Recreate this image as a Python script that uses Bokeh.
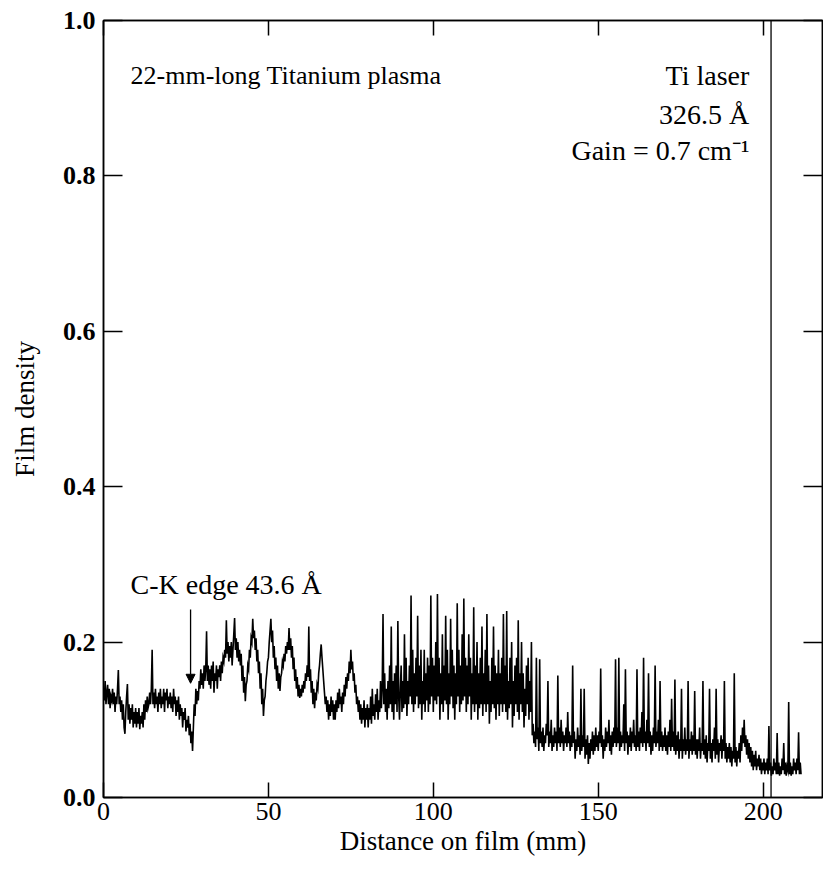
from bokeh.plotting import figure
from bokeh.models import Range1d, FixedTicker, LinearAxis, Span, Label, Arrow, NormalHead, ColumnDataSource
from bokeh.embed import file_html
from bokeh.resources import INLINE

# ---------------- data ----------------
x_step = 0.25
density = [
    # 0-10 mm
    0.14,0.125,0.15,0.12,0.135,0.145,0.12,0.14,0.115,0.13,
    0.125,0.14,0.12,0.135,0.11,0.13,0.12,0.14,0.164,0.12,
    0.13,0.11,0.125,0.10,0.12,0.09,0.082,0.11,0.13,0.146,
    0.10,0.12,0.095,0.115,0.10,0.12,0.09,0.11,0.095,0.115,
    # 10-20
    0.09,0.11,0.095,0.115,0.088,0.105,0.095,0.11,0.09,0.12,
    0.10,0.125,0.11,0.13,0.115,0.12,0.135,0.12,0.14,0.19,
    0.12,0.135,0.115,0.14,0.12,0.13,0.11,0.135,0.12,0.14,
    0.115,0.13,0.12,0.14,0.11,0.135,0.125,0.14,0.115,0.13,
    # 20-30
    0.12,0.135,0.115,0.13,0.11,0.14,0.12,0.13,0.105,0.125,
    0.11,0.13,0.10,0.12,0.105,0.115,0.09,0.11,0.10,0.115,
    0.085,0.10,0.09,0.105,0.08,0.095,0.07,0.085,0.06,0.09,
    0.12,0.105,0.14,0.12,0.137,0.125,0.15,0.14,0.165,0.145,
    # 30-40
    0.16,0.14,0.17,0.15,0.165,0.214,0.15,0.17,0.145,0.165,
    0.14,0.17,0.15,0.175,0.135,0.16,0.15,0.17,0.14,0.165,
    0.155,0.17,0.15,0.175,0.16,0.18,0.175,0.19,0.18,0.228,
    0.185,0.20,0.175,0.195,0.18,0.20,0.17,0.19,0.21,0.231,
    # 40-50
    0.19,0.205,0.18,0.20,0.175,0.19,0.17,0.185,0.15,0.17,
    0.135,0.155,0.124,0.145,0.15,0.17,0.165,0.19,0.18,0.205,
    0.20,0.23,0.205,0.215,0.19,0.205,0.175,0.19,0.16,0.175,
    0.14,0.16,0.12,0.14,0.105,0.125,0.13,0.15,0.16,0.175,
    # 50-60
    0.18,0.20,0.215,0.23,0.20,0.215,0.18,0.195,0.165,0.18,
    0.15,0.17,0.14,0.16,0.137,0.155,0.16,0.175,0.17,0.185,
    0.175,0.195,0.185,0.20,0.19,0.218,0.19,0.205,0.18,0.195,
    0.165,0.18,0.15,0.165,0.14,0.155,0.13,0.145,0.128,0.14,
    # 60-70
    0.13,0.145,0.135,0.15,0.14,0.16,0.15,0.17,0.155,0.22,
    0.15,0.165,0.135,0.15,0.12,0.14,0.115,0.135,0.125,0.145,
    0.14,0.16,0.17,0.185,0.197,0.18,0.165,0.15,0.135,0.12,
    0.13,0.11,0.125,0.10,0.12,0.105,0.13,0.11,0.125,0.10,
    # 70-80
    0.12,0.10,0.125,0.11,0.135,0.115,0.14,0.12,0.13,0.11,
    0.135,0.12,0.145,0.13,0.155,0.14,0.16,0.15,0.175,0.16,
    0.19,0.165,0.175,0.15,0.16,0.135,0.145,0.12,0.13,0.11,
    0.125,0.10,0.12,0.095,0.115,0.10,0.125,0.09,0.115,0.10,
    # 80-90
    0.12,0.09,0.115,0.10,0.13,0.095,0.14,0.105,0.12,0.10,
    0.133,0.11,0.14,0.10,0.125,0.11,0.15,0.115,0.14,0.236,
    0.12,0.16,0.11,0.14,0.10,0.15,0.115,0.17,0.12,0.22,
    0.11,0.15,0.10,0.16,0.12,0.17,0.11,0.227,0.13,0.10,
    # 90-100
    0.14,0.17,0.11,0.15,0.115,0.21,0.12,0.18,0.105,0.15,
    0.12,0.17,0.13,0.26,0.12,0.19,0.11,0.16,0.12,0.18,
    0.13,0.234,0.115,0.17,0.12,0.19,0.10,0.15,0.12,0.19,
    0.11,0.16,0.125,0.18,0.11,0.17,0.12,0.26,0.13,0.18,
    # 100-110
    0.11,0.17,0.125,0.20,0.12,0.262,0.13,0.18,0.10,0.16,
    0.12,0.21,0.11,0.17,0.125,0.234,0.12,0.19,0.10,0.16,
    0.12,0.23,0.13,0.19,0.115,0.17,0.10,0.16,0.12,0.25,
    0.13,0.19,0.11,0.17,0.12,0.21,0.125,0.256,0.13,0.18,
    # 110-120
    0.11,0.17,0.12,0.21,0.13,0.18,0.10,0.16,0.12,0.245,
    0.11,0.17,0.12,0.20,0.10,0.16,0.115,0.18,0.12,0.22,
    0.105,0.16,0.12,0.19,0.11,0.236,0.12,0.17,0.095,0.15,
    0.11,0.18,0.12,0.22,0.115,0.17,0.10,0.16,0.12,0.19,
    # 120-130
    0.105,0.16,0.12,0.18,0.11,0.236,0.12,0.17,0.11,0.24,
    0.10,0.15,0.115,0.18,0.12,0.20,0.09,0.15,0.105,0.17,
    0.12,0.18,0.11,0.228,0.10,0.16,0.12,0.20,0.11,0.16,
    0.09,0.14,0.105,0.17,0.12,0.18,0.10,0.15,0.11,0.20,
    # 130-140
    0.08,0.095,0.07,0.085,0.065,0.18,0.075,0.09,0.06,0.178,
    0.07,0.085,0.065,0.09,0.06,0.08,0.07,0.095,0.08,0.15,
    0.065,0.085,0.07,0.10,0.06,0.08,0.065,0.09,0.07,0.085,
    0.06,0.157,0.07,0.09,0.065,0.10,0.07,0.085,0.06,0.08,
    # 140-150
    0.07,0.09,0.065,0.11,0.07,0.085,0.06,0.08,0.065,0.17,
    0.07,0.085,0.05,0.075,0.06,0.09,0.065,0.08,0.055,0.14,
    0.06,0.08,0.065,0.14,0.05,0.075,0.055,0.08,0.043,0.07,
    0.05,0.075,0.06,0.085,0.055,0.08,0.06,0.09,0.065,0.08,
    # 150-160
    0.06,0.085,0.07,0.166,0.065,0.08,0.05,0.075,0.06,0.09,
    0.065,0.085,0.07,0.10,0.06,0.08,0.055,0.085,0.065,0.09,
    0.07,0.178,0.065,0.09,0.07,0.18,0.06,0.085,0.065,0.08,
    0.07,0.12,0.06,0.165,0.07,0.085,0.055,0.08,0.065,0.09,
    # 160-170
    0.06,0.085,0.07,0.10,0.065,0.08,0.06,0.165,0.065,0.085,
    0.06,0.09,0.07,0.11,0.065,0.18,0.07,0.085,0.06,0.10,
    0.07,0.16,0.065,0.085,0.055,0.08,0.06,0.09,0.07,0.17,
    0.065,0.085,0.07,0.10,0.06,0.15,0.065,0.085,0.06,0.08,
    # 170-180
    0.065,0.09,0.06,0.08,0.055,0.085,0.065,0.10,0.06,0.127,
    0.065,0.085,0.06,0.152,0.055,0.08,0.06,0.085,0.05,0.075,
    0.06,0.14,0.05,0.075,0.06,0.09,0.055,0.075,0.06,0.15,
    0.05,0.075,0.06,0.085,0.055,0.08,0.06,0.137,0.055,0.075,
    # 180-190
    0.05,0.075,0.06,0.09,0.05,0.07,0.06,0.15,0.055,0.075,
    0.05,0.08,0.045,0.07,0.06,0.14,0.05,0.07,0.045,0.075,
    0.06,0.09,0.05,0.14,0.055,0.075,0.045,0.07,0.06,0.08,
    0.05,0.075,0.06,0.15,0.05,0.07,0.045,0.065,0.05,0.07,
    # 190-200
    0.045,0.065,0.04,0.06,0.05,0.16,0.045,0.065,0.04,0.06,
    0.05,0.07,0.045,0.08,0.06,0.09,0.07,0.10,0.065,0.08,
    0.055,0.075,0.05,0.07,0.045,0.065,0.04,0.06,0.035,0.055,
    0.04,0.06,0.035,0.05,0.04,0.055,0.035,0.05,0.03,0.045,
    # 200-210
    0.035,0.05,0.03,0.045,0.035,0.05,0.03,0.092,0.035,0.045,
    0.028,0.04,0.03,0.05,0.035,0.045,0.03,0.083,0.03,0.045,
    0.028,0.04,0.03,0.05,0.035,0.07,0.03,0.045,0.028,0.04,
    0.035,0.123,0.03,0.045,0.028,0.04,0.03,0.05,0.035,0.045,
    # 210-211.5
    0.03,0.05,0.035,0.084,0.03,0.045,0.03,
]
distance = [i * x_step for i in range(len(density))]

x_ticks = [0, 50, 100, 150, 200]
y_ticks = [0.0, 0.2, 0.4, 0.6, 0.8, 1.0]
y_tick_labels = {0.0: "0.0", 0.2: "0.2", 0.4: "0.4", 0.6: "0.6", 0.8: "0.8", 1.0: "1.0"}

ti_laser_x = 202.4          # Ti laser line position (mm)
ck_edge_x = 26.4            # C-K edge position (mm)

FONT = "Liberation Serif"

p = figure(width=823, height=874, output_backend="svg", toolbar_location=None,
           x_range=Range1d(0, 218), y_range=Range1d(0, 1.0),
           min_border_left=103, min_border_right=1, min_border_top=20, min_border_bottom=77)
p.background_fill_color = "white"
p.border_fill_color = "white"
p.outline_line_color = "black"
p.outline_line_width = 1.5
p.xgrid.visible = False
p.ygrid.visible = False

src = ColumnDataSource(dict(x=distance, y=density))
p.line("x", "y", source=src, line_color="black", line_width=1.6, line_join="miter")

p.add_layout(Span(location=ti_laser_x, dimension="height", line_color="black", line_width=1.3))

# axes styling
def style_axis(ax, ticks, tick_len, show_labels):
    ax.ticker = FixedTicker(ticks=ticks)
    ax.major_tick_in = tick_len
    ax.major_tick_out = 0
    ax.minor_tick_in = 0
    ax.minor_tick_out = 0
    ax.axis_line_color = "black"
    ax.axis_line_width = 1.5
    ax.major_tick_line_width = 1.5
    ax.major_tick_line_color = "black"
    ax.major_label_text_font = FONT
    ax.major_label_text_font_size = "26px" if show_labels else "0px"
    ax.major_label_text_font_style = "bold"
    ax.major_label_text_color = "black"
    ax.axis_label_text_font = FONT
    ax.axis_label_text_font_size = "27px"
    ax.axis_label_text_font_style = "normal"
    ax.axis_label_text_color = "black"

xb = p.xaxis[0]
yl = p.yaxis[0]
style_axis(xb, x_ticks, 15, True)
style_axis(yl, y_ticks, 19, True)
xb.major_label_text_font_style = "normal"
xb.axis_label = "Distance on film (mm)"
yl.axis_label = "Film density"
yl.major_label_overrides = y_tick_labels
xb.major_label_standoff = 5
yl.major_label_standoff = 8
xb.axis_label_standoff = 3
yl.axis_label_standoff = 20

xt = LinearAxis()
style_axis(xt, x_ticks, 15, False)
xt.major_label_text_alpha = 0
p.add_layout(xt, "above")
yr = LinearAxis()
style_axis(yr, y_ticks, 19, False)
yr.major_label_text_alpha = 0
p.add_layout(yr, "right")

# annotations
def lab(x, y, text, align="left", size="28px"):
    p.add_layout(Label(x=x, y=y, text=text, text_font=FONT, text_font_size=size,
                       text_color="black", text_align=align, text_baseline="middle"))

lab(8.2, 0.929, "22-mm-long Titanium plasma", size="26px")
lab(195.8, 0.929, "Ti laser", "right")
lab(195.8, 0.879, "326.5 Å", "right")
lab(195.8, 0.833, "Gain = 0.7 cm⁻¹", "right")
lab(8.2, 0.274, "C-K edge 43.6 Å")

p.add_layout(Arrow(x_start=ck_edge_x, y_start=0.242, x_end=ck_edge_x, y_end=0.147,
                   line_color="black", line_width=1.3,
                   end=NormalHead(size=9, fill_color="black", line_color="black")))

open("out.html", "w").write(file_html(p, INLINE))
